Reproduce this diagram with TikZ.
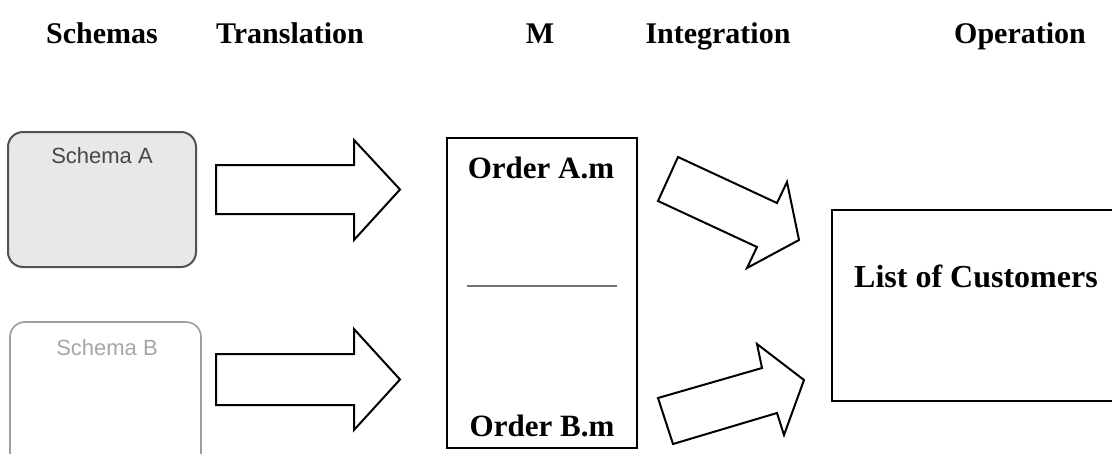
\documentclass[tikz,border=0pt]{standalone}
\usepackage{fontspec}
\setmainfont{Liberation Serif}
\newfontfamily\arialfont{Liberation Sans}
\begin{document}
\begin{tikzpicture}[x=1pt,y=-1pt,
  heading/.style={anchor=base,font=\fontsize{30}{36}\selectfont\bfseries,inner sep=0pt},
  boxlabel/.style={anchor=base,font=\fontsize{31}{37}\selectfont\bfseries,inner sep=0pt},
  schemalabel/.style={anchor=base,font=\arialfont\fontsize{22}{26}\selectfont,inner sep=0pt},
  blockarrow/.style={draw=black,line width=2pt,line join=miter,fill=white},
  plainbox/.style={draw=black,line width=2pt}]
\clip (0,0) rectangle (1112,453);
\fill[white] (0,0) rectangle (1112,453);

% column headings
\node[heading] (hSchemas) at (102,43) {Schemas};
\node[heading] (hTrans) at (290,43) {Translation};
\node[heading] (hM) at (540,43) {M};
\node[heading] (hInteg) at (718,43) {Integration};
\node[heading] (hOper) at (1020,43) {Operation};

% source schemas
\draw[draw=black!68,fill=black!9,line width=2pt,rounded corners=15pt] (8,132) rectangle (196,267);
\node[schemalabel,text=black!72] (schemaA) at (102,163) {Schema A};
\draw[draw=black!38,fill=white,line width=1.6pt,rounded corners=15pt] (10,322) rectangle (201,470);
\node[schemalabel,text=black!35] (schemaB) at (107,355) {Schema B};

% translation arrows
\draw[blockarrow] (216,165) -- (354,165) -- (354,140) -- (400,189.5) -- (354,240) -- (354,214) -- (216,214) -- cycle;
\draw[blockarrow] (216,354) -- (354,354) -- (354,329) -- (400,379.5) -- (354,430) -- (354,405) -- (216,405) -- cycle;

% mediated schema M
\draw[plainbox] (447,138) rectangle (637,448);
\node[boxlabel] (orderA) at (541,178) {Order A.m};
\draw[draw=black!55,line width=2pt] (467,286) -- (617,286);
\node[boxlabel] (orderB) at (542,436) {Order B.m};

% integration arrows
\draw[blockarrow] (678,157) -- (777,203) -- (787,182) -- (799,240) -- (747,268) -- (757,247) -- (658,201) -- cycle;
\draw[blockarrow] (658,398) -- (762,368) -- (757,344) -- (804,380) -- (784,435) -- (777,413) -- (673,444) -- cycle;

% operation result
\draw[plainbox] (832,210) rectangle (1125,401);
\node[boxlabel,font=\fontsize{32}{38}\selectfont\bfseries] (customers) at (976,287) {List of Customers};
\end{tikzpicture}
\end{document}
